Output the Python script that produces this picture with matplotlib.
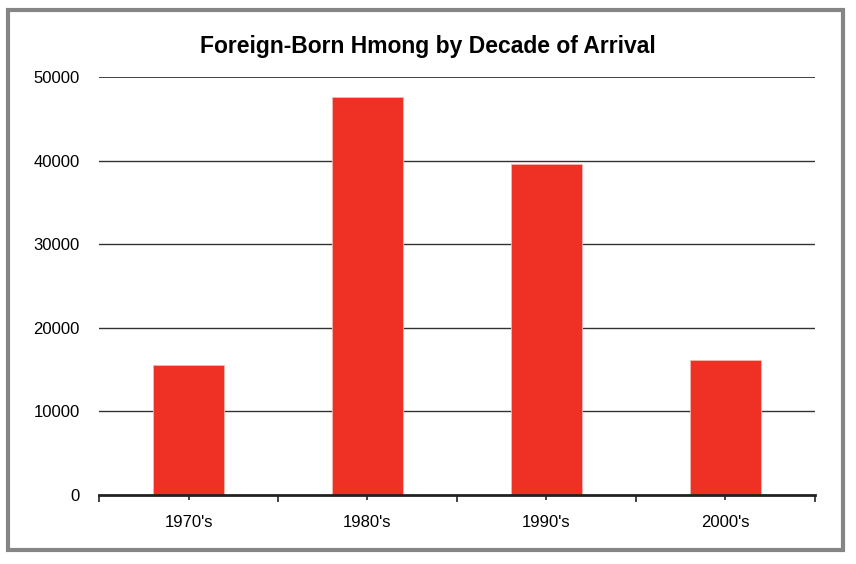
import numpy as np
import matplotlib
matplotlib.use("Agg")
import matplotlib.pyplot as plt
from matplotlib.patches import Rectangle
from matplotlib.ticker import FixedLocator

# Data
decades = ["1970's", "1980's", "1990's", "2000's"]
counts = [15500, 47600, 39600, 16200]
y_ticks = [0, 10000, 20000, 30000, 40000, 50000]

plt.rcParams['font.family'] = ['Liberation Sans', 'DejaVu Sans']

fig = plt.figure(figsize=(8.56, 5.64), dpi=100)
ax = fig.add_axes([0.1157, 0.1223, 0.952 - 0.1157, 0.8635 - 0.1223])

x = np.arange(len(decades))
ax.bar(x, counts, width=0.4, color="#ee3124", zorder=3,
       edgecolor="#f2b8b0", linewidth=0.6)

ax.set_xlim(-0.5, len(decades) - 0.5)
ax.set_ylim(0, 50000)
ax.set_yticks(y_ticks)
ax.set_yticklabels([str(v) for v in y_ticks], fontsize=12)
ax.set_xticks(x)
ax.set_xticklabels(decades, fontsize=12)
ax.xaxis.set_minor_locator(FixedLocator(np.arange(-0.5, len(decades), 1.0)))

ax.tick_params(axis='y', length=0, pad=14)
ax.tick_params(axis='x', which='major', direction='inout', length=7, width=1.2,
               pad=11, colors='#222222', labelcolor='black')
ax.tick_params(axis='x', which='minor', direction='out', length=5, width=1.2,
               color='#222222')

# gridlines
for v in y_ticks[1:]:
    ax.axhline(v, color='#333333', linewidth=1.0 if v < 50000 else 1.3, zorder=1)

for s in ['top', 'right', 'left']:
    ax.spines[s].set_visible(False)
ax.spines['bottom'].set_linewidth(2)
ax.spines['bottom'].set_color('#222222')
ax.spines['bottom'].set_zorder(4)

fig.text(0.5, 0.918, "Foreign-Born Hmong by Decade of Arrival",
         ha='center', va='center', fontsize=16.5, fontweight='bold')

# outer gray frame
fig.patches.append(Rectangle((0.0093, 0.0248), 0.985 - 0.0093, 0.982 - 0.0248,
                             transform=fig.transFigure, fill=False,
                             edgecolor='#858585', linewidth=3))

fig.savefig("out.png", dpi=100)
